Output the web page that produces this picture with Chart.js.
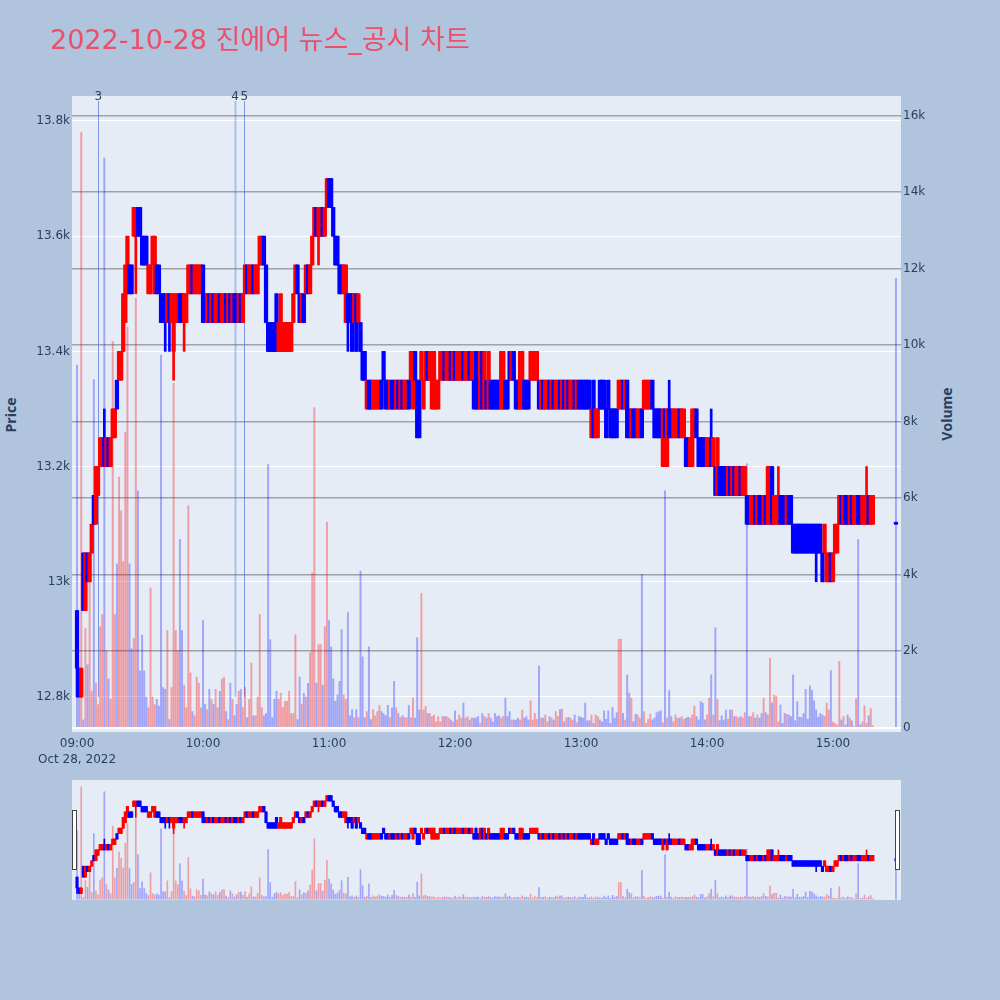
<!DOCTYPE html>
<html lang="ko">
<head>
<meta charset="utf-8">
<title>2022-10-28 진에어 뉴스_공시 차트</title>
<script src="https://cdn.jsdelivr.net/npm/chart.js@4.4.0/dist/chart.umd.min.js"></script>
<style>
  html, body { margin: 0; padding: 0; }
  body { width: 1000px; height: 1000px; background: #b0c4de; position: relative; overflow: hidden; font-family: "DejaVu Sans", "Noto Sans CJK KR", sans-serif; }
  #title { position: absolute; left: 50px; top: 24px; font-size: 27px; line-height: 1.2; color: #ec4f6a; white-space: nowrap; z-index: 2; }
  .axis-title { position: absolute; font-family: "Open Sans", sans-serif; font-size: 14px; font-weight: bold; color: #2a3f5f; white-space: nowrap; transform: translate(-50%, -50%) rotate(-90deg); }
  #main { position: absolute; left: 0; top: 0; }
  #slider { position: absolute; left: 72px; top: 780px; }
  .grabber { position: absolute; top: 810px; width: 3px; height: 58px; background: #fff; border: 1px solid #444; }
</style>
</head>
<body>
<div id="title">2022-10-28 진에어 뉴스_공시 차트</div>
<div class="axis-title" style="left:10px; top:415px;">Price</div>
<div class="axis-title" style="left:946px; top:414px;">Volume</div>
<canvas id="main" width="1000" height="780"></canvas>
<canvas id="slider" width="829" height="120"></canvas>
<div class="grabber" style="left:72px;"></div>
<div class="grabber" style="left:895px;"></div>

<script>
// 1-minute candles from 09:00 (index = minutes after 09:00)
const opens = [
  12950,12850,12800,13050,12950,13050,13000,13050,13150,13100,
  13150,13200,13200,13250,13200,13250,13200,13250,13250,13350,
  13350,13350,13400,13450,13500,13550,13550,13600,13600,13650,
  13650,13600,13600,13600,13500,13500,13550,13500,13550,13550,
  13500,13500,13500,13450,13500,13450,13400,13450,13450,13500,
  13500,13450,13450,13500,13500,13550,13500,13500,13500,13500,
  13550,13500,13450,13500,13450,13500,13450,13450,13500,13450,
  13450,13500,13450,13500,13450,13500,13500,13450,13500,13450,
  13500,13550,13500,13500,13550,13500,13500,13550,13550,13600,
  13550,13450,13450,13450,13450,13500,13400,13400,13400,13400,
  13400,13400,13400,13450,13500,13550,13500,13450,13500,13500,
  13550,13500,13550,13600,13650,13600,13600,13650,13600,13650,
  13700,13700,13650,13600,13600,13550,13550,13500,13450,13500,
  13500,13500,13450,13500,13450,13450,13400,13400,13300,13350,
  13350,13300,13300,13300,13300,13350,13400,13350,13350,13300,
  13350,13350,13300,13350,13300,13350,13300,13300,13350,13350,
  13300,13400,13350,13350,13350,13300,13350,13400,13350,13300,
  13300,13300,13300,13350,13350,13400,13350,13350,13400,13350,
  13400,13350,13350,13350,13400,13350,13350,13400,13350,13350,
  13400,13350,13300,13400,13300,13350,13300,13350,13350,13350,
  13350,13350,13300,13300,13350,13350,13400,13350,13400,13350,
  13350,13300,13300,13350,13350,13350,13350,13350,13350,13350,
  13350,13300,13350,13300,13300,13350,13300,13350,13300,13300,
  13350,13300,13350,13300,13350,13300,13300,13350,13300,13350,
  13350,13350,13350,13350,13350,13250,13350,13250,13250,13350,
  13350,13350,13300,13350,13300,13300,13300,13300,13300,13300,
  13350,13300,13350,13300,13250,13300,13300,13250,13250,13300,
  13300,13300,13300,13300,13350,13300,13300,13300,13300,13200,
  13300,13200,13300,13300,13250,13250,13250,13300,13250,13250,
  13250,13250,13200,13200,13250,13300,13250,13250,13250,13250,
  13200,13200,13250,13200,13200,13150,13200,13200,13200,13200,
  13150,13200,13150,13200,13150,13150,13200,13150,13150,13150,
  13150,13100,13100,13150,13100,13150,13150,13100,13150,13100,
  13100,13200,13100,13100,13100,13150,13150,13150,13100,13150,
  13150,13100,13100,13100,13100,13100,13100,13100,13100,13100,
  13100,13100,13100,13100,13100,13050,13050,13000,13000,13050,
  13000,13050,13050,13100,13150,13100,13150,13150,13100,13150,
  13100,13100,13150,13150,13100,13100,13100,13150,13100,13100
];
const closes = [
  12850,12800,12850,12950,13050,13000,13050,13100,13100,13200,
  13200,13250,13250,13200,13250,13200,13250,13300,13300,13300,
  13400,13400,13500,13550,13600,13500,13500,13650,13650,13600,
  13600,13550,13550,13550,13550,13550,13600,13600,13500,13500,
  13450,13450,13450,13500,13450,13500,13500,13500,13500,13450,
  13450,13500,13500,13550,13550,13500,13550,13550,13550,13550,
  13450,13450,13500,13450,13500,13450,13500,13500,13450,13500,
  13500,13450,13500,13450,13500,13450,13450,13500,13450,13500,
  13550,13500,13550,13550,13500,13550,13550,13600,13600,13550,
  13450,13400,13400,13400,13400,13400,13450,13500,13450,13450,
  13450,13450,13450,13500,13550,13500,13450,13500,13450,13550,
  13500,13550,13600,13650,13600,13650,13650,13600,13650,13700,
  13650,13650,13600,13550,13550,13500,13500,13550,13550,13450,
  13450,13400,13500,13400,13500,13400,13350,13350,13350,13300,
  13300,13350,13350,13350,13350,13300,13350,13300,13300,13350,
  13300,13300,13350,13300,13350,13300,13350,13350,13300,13400,
  13400,13350,13250,13250,13400,13350,13400,13350,13400,13400,
  13400,13350,13350,13400,13400,13350,13400,13400,13350,13400,
  13350,13400,13400,13400,13350,13400,13400,13350,13400,13300,
  13300,13300,13400,13300,13400,13300,13400,13300,13300,13300,
  13300,13300,13400,13400,13300,13300,13350,13400,13350,13300,
  13300,13400,13400,13300,13300,13300,13400,13400,13400,13400,
  13300,13350,13300,13350,13350,13300,13350,13300,13350,13350,
  13300,13350,13300,13350,13300,13350,13350,13300,13350,13300,
  13300,13300,13300,13300,13300,13300,13250,13300,13300,13300,
  13300,13300,13250,13300,13250,13250,13250,13250,13350,13350,
  13300,13350,13250,13250,13300,13250,13250,13300,13300,13250,
  13350,13350,13350,13350,13300,13250,13250,13250,13250,13300,
  13250,13300,13250,13250,13300,13300,13300,13250,13300,13300,
  13200,13200,13250,13300,13300,13250,13200,13200,13200,13200,
  13250,13250,13200,13250,13150,13250,13150,13150,13150,13150,
  13200,13150,13200,13150,13200,13200,13150,13200,13200,13100,
  13100,13150,13150,13100,13150,13100,13100,13150,13100,13200,
  13200,13100,13150,13150,13150,13100,13100,13100,13150,13100,
  13100,13050,13050,13050,13050,13050,13050,13050,13050,13050,
  13050,13050,13050,13050,13050,13000,13100,13050,13050,13000,
  13050,13100,13100,13150,13100,13150,13100,13100,13150,13100,
  13150,13150,13100,13100,13150,13150,13150,13100,13150,13150
];
const volumes = [
  9480,1480,15560,200,2590,1640,3970,950,9100,1160,
  600,2640,2960,14890,2010,1270,740,10100,2960,4280,
  6550,5670,4340,7730,10470,4280,2060,2330,11230,6190,
  1480,2420,1480,800,520,3650,800,600,740,560,
  9740,1050,1000,2540,210,1050,9000,2540,2010,4920,
  2540,1110,520,5800,1430,420,310,1320,1160,520,
  2800,610,470,1000,740,610,1000,520,950,1270,
  1320,420,210,1160,740,310,610,950,1000,520,
  1050,260,740,1690,310,310,800,2960,520,310,
  370,6880,2300,260,740,950,740,900,520,690,
  690,950,370,370,2430,210,1320,610,900,800,
  1160,1960,4040,8370,1160,2170,2170,1110,2640,5370,
  2800,2110,1270,690,850,1210,2560,850,740,3010,
  310,470,260,470,260,4090,1850,260,420,2110,
  210,470,310,420,580,420,370,310,580,260,
  520,1210,520,370,260,310,260,260,580,260,
  770,250,2350,460,3510,460,550,370,370,290,
  330,150,290,150,290,290,290,250,200,150,
  440,200,330,250,640,250,290,200,250,250,
  250,290,110,370,290,250,370,250,150,370,
  290,310,250,290,770,290,420,200,200,200,
  250,200,460,250,290,200,700,200,370,220,
  1610,250,250,330,150,290,250,200,420,290,
  480,480,150,250,270,250,200,330,130,290,
  270,250,640,180,180,330,110,330,290,200,
  150,440,220,440,110,530,250,390,2310,2310,
  370,200,1380,900,770,150,350,330,250,4010,
  420,110,220,350,200,250,390,420,440,130,
  6190,250,970,290,150,330,250,250,290,220,
  250,270,250,330,570,290,200,680,640,200,
  330,770,1380,330,2610,740,180,310,200,460,
  220,460,460,290,290,250,290,250,390,6900,
  290,290,390,250,330,250,370,770,390,330,
  1810,650,850,820,150,590,110,370,350,330,
  290,1380,180,680,270,270,370,1000,220,1090,
  970,700,460,270,370,330,290,640,460,1490,
  150,110,70,1730,200,290,70,330,250,180,
  30,750,4920,70,150,570,110,310,500,50
];

// minutes whose wick reaches past the body
const wickMinutes = [0, 13, 28, 42, 44, 46, 51, 115, 129, 282, 302, 334, 352, 376];
const wickLows    = [12800, 13200, 13500, 13400, 13400, 13350, 13400, 13550, 13400, 13250, 13200, 13100, 13000, 13100];
const wickHighs   = [12950, 13300, 13650, 13500, 13500, 13500, 13500, 13650, 13500, 13350, 13300, 13200, 13100, 13200];

// 15:30 closing auction
const auctionMinute = 390;
const auctionOpen = 13100;
const auctionClose = 13100;
const auctionVolume = 11750;

// news / disclosure markers
const markerLabels = ['3', '4', '5'];
const markerMinutes = [10.1, 75.3, 79.7];
const markerBottom = 12800;

const hourTicks = [0, 60, 120, 180, 240, 300, 360];
const priceTicks = [12800, 13000, 13200, 13400, 13600, 13800];
const volumeTicks = [0, 2000, 4000, 6000, 8000, 10000, 12000, 14000, 16000];
const dateLabel = 'Oct 28, 2022';

const xMin = -2.4, xMax = 392.4;
const priceMin = 12739.2, priceMax = 13843.4;
const volMin = -115, volMax = 16515;

const UP = '#ff0000', DOWN = '#0000ff';
const UP_VOL = 'rgba(255,0,0,0.33)', DOWN_VOL = 'rgba(0,0,255,0.3)';
const TEXT = '#2a3f5f';

// build candle points
const bodies = [], wicks = [], vols = [], bodyColors = [], volColors = [];
function addCandle(m, o, c, v) {
    const k = wickMinutes.indexOf(m);
    const lo = k >= 0 ? wickLows[k] : Math.min(o, c);
    const hi = k >= 0 ? wickHighs[k] : Math.max(o, c);
    const up = c > o;
    bodies.push({ x: m, y: [o, c] });
    wicks.push({ x: m, y: [lo, hi] });
    vols.push({ x: m, y: v });
    bodyColors.push(up ? UP : DOWN);
    volColors.push(up ? UP_VOL : DOWN_VOL);
}
opens.forEach((o, i) => addCandle(i, o, closes[i], volumes[i]));
addCandle(auctionMinute, auctionOpen, auctionClose, auctionVolume);

function hhmm(m) {
    const h = 9 + Math.floor(m / 60), mm = m % 60;
    return String(h).padStart(2, '0') + ':' + String(mm).padStart(2, '0');
}

const plotBackground = {
    id: 'plotBackground',
    beforeDraw(chart) {
        const { ctx, chartArea: a } = chart;
        ctx.save();
        ctx.fillStyle = '#e5ecf6';
        ctx.fillRect(a.left, a.top, a.right - a.left, a.bottom - a.top);
        ctx.restore();
    }
};

const newsMarkers = {
    id: 'newsMarkers',
    beforeDatasetsDraw(chart) {
        const { ctx, chartArea: a, scales: { x, y } } = chart;
        const bottom = y.getPixelForValue(markerBottom);
        ctx.save();
        markerMinutes.forEach((m, i) => {
            const px = Math.round(x.getPixelForValue(m)) + 0.5;
            ctx.strokeStyle = i === 1 ? 'rgba(65,105,225,0.35)' : 'rgba(65,105,225,0.65)';
            ctx.lineWidth = i === 1 ? 2 : 1;
            ctx.beginPath();
            ctx.moveTo(px, a.top + 5);
            ctx.lineTo(px, bottom);
            ctx.stroke();
        });
        ctx.restore();
    },
    afterDraw(chart) {
        const { ctx, chartArea: a, scales: { x } } = chart;
        ctx.save();
        ctx.font = '12px "DejaVu Sans", sans-serif';
        ctx.fillStyle = TEXT;
        ctx.textAlign = 'center';
        ctx.textBaseline = 'middle';
        markerMinutes.forEach((m, i) => {
            ctx.fillText(markerLabels[i], x.getPixelForValue(m), a.top + 1);
        });
        ctx.restore();
    }
};

function datasets(big) {
    return [
        { data: bodies, yAxisID: 'y', backgroundColor: bodyColors, borderWidth: 0,
          barThickness: big ? 3.6 : 2.5, minBarLength: 2, grouped: false, order: 1 },
        { data: wicks, yAxisID: 'y', backgroundColor: bodyColors, borderWidth: 0,
          barThickness: big ? 2 : 1, grouped: false, order: 2 },
        { data: vols, yAxisID: 'y1', backgroundColor: volColors, borderWidth: 0,
          barThickness: big ? 1.3 : 1, grouped: false, order: 3 }
    ];
}

const tickFont = { family: '"DejaVu Sans", sans-serif', size: 12 };

new Chart(document.getElementById('main').getContext('2d'), {
    type: 'bar',
    data: { datasets: datasets(true) },
    plugins: [plotBackground, newsMarkers],
    options: {
        responsive: false,
        animation: false,
        devicePixelRatio: 1,
        layout: { padding: { top: 96, left: 0, right: 0, bottom: 0 } },
        plugins: { legend: { display: false }, tooltip: { enabled: false } },
        scales: {
            x: {
                type: 'linear', min: xMin, max: xMax, offset: false,
                afterBuildTicks: s => { s.ticks = hourTicks.map(v => ({ value: v })); },
                afterFit: s => { s.height = 48; },
                grid: { display: false }, border: { display: false },
                ticks: {
                    autoSkip: false, maxRotation: 0, padding: -4, color: TEXT,
                    font: { ...tickFont, lineHeight: 1.3 },
                    callback: v => v === 0 ? [hhmm(v), dateLabel] : hhmm(v)
                }
            },
            y: {
                position: 'left', min: priceMin, max: priceMax,
                afterBuildTicks: s => { s.ticks = priceTicks.map(v => ({ value: v })); },
                afterFit: s => { s.width = 72; },
                grid: { color: '#ffffff', lineWidth: 1, drawTicks: false }, border: { display: false },
                ticks: { padding: 2, color: TEXT, font: tickFont, callback: v => (v / 1000) + 'k' }
            },
            y1: {
                position: 'right', min: volMin, max: volMax,
                afterBuildTicks: s => { s.ticks = volumeTicks.map(v => ({ value: v })); },
                afterFit: s => { s.width = 99; },
                grid: {
                    drawTicks: false,
                    color: c => c.tick && c.tick.value === 0 ? '#ffffff' : '#a0a2a6',
                    lineWidth: c => c.tick && c.tick.value === 0 ? 2 : 1.5
                },
                border: { display: false },
                ticks: { padding: 2, color: TEXT, font: tickFont, callback: v => v === 0 ? '0' : (v / 1000) + 'k' }
            }
        }
    }
});

// range slider overview
new Chart(document.getElementById('slider').getContext('2d'), {
    type: 'bar',
    data: { datasets: datasets(false) },
    plugins: [plotBackground],
    options: {
        responsive: false,
        animation: false,
        devicePixelRatio: 1,
        layout: { padding: 0 },
        plugins: { legend: { display: false }, tooltip: { enabled: false } },
        scales: {
            x: { type: 'linear', min: xMin, max: xMax, offset: false, display: false },
            y: { min: priceMin, max: priceMax, display: false },
            y1: { min: volMin, max: volMax, display: false }
        }
    }
});
</script>
</body>
</html>
